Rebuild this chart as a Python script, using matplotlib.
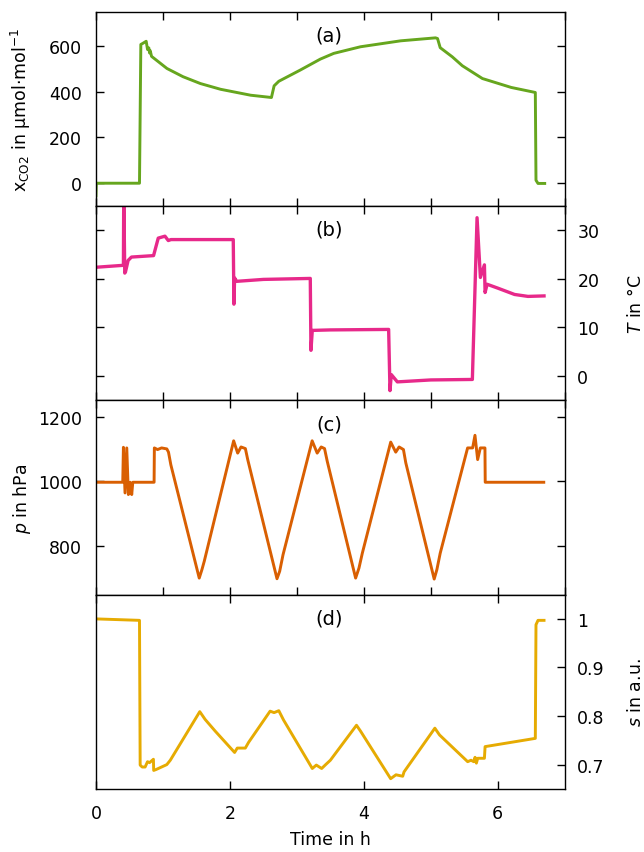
import numpy as np
import matplotlib
matplotlib.use("Agg")
import matplotlib.pyplot as plt

# Daten ----------------------------------------------------------------------

# (a) CO2-Anteil
t_co2 = [0, 0.005, 0.65, 0.67, 0.70, 0.75, 0.77, 0.79, 0.80, 0.81, 0.83, 1.06, 1.30,
         1.56, 1.86, 2.31, 2.62, 2.66, 2.73, 3.05, 3.35, 3.55, 3.95, 4.55, 5.07,
         5.10, 5.14, 5.32, 5.47, 5.77, 6.20, 6.56, 6.57, 6.60, 6.70]
x_co2 = [-55, 0, 0, 607, 612, 621, 585, 592, 570, 580, 555, 502, 466,
         436, 411, 385, 375, 426, 446, 495, 543, 568, 597, 623, 636,
         633, 593, 553, 514, 458, 419, 397, 13, -1, -1]

# (b) Temperatur
t_temp = [0, 0.41, 0.415, 0.43, 0.44, 0.48, 0.53, 0.86, 0.93, 1.03, 1.08, 1.12,
          2.05, 2.06, 2.07, 2.10, 2.50, 3.20, 3.21, 3.23, 3.50, 4.37, 4.39,
          4.41, 4.50, 5.00, 5.62, 5.69, 5.74, 5.80, 5.81, 5.84, 6.00, 6.25,
          6.45, 6.69]
temp = [22.4, 22.8, 38, 21.2, 21.4, 23.8, 24.5, 24.8, 28.4, 28.8, 27.9, 28.1,
        28.1, 14.8, 20.2, 19.5, 19.9, 20.1, 5.3, 9.4, 9.5, 9.6, -3.0,
        0.3, -1.2, -0.8, -0.7, 32.6, 20.3, 22.9, 17.2, 18.9, 18.1, 16.8,
        16.4, 16.5]

# (c) Druck
t_p = [0, 0.40, 0.41, 0.434, 0.46, 0.484, 0.51, 0.534, 0.55, 0.868, 0.872, 0.92,
       0.98, 1.058, 1.083, 1.118, 1.542, 1.582, 1.617, 2.056, 2.116, 2.166,
       2.231, 2.266, 2.703, 2.743, 2.793, 3.228, 3.303, 3.363, 3.413, 3.453,
       3.877, 3.927, 3.977, 4.401, 4.476, 4.526, 4.591, 4.626, 5.050, 5.090,
       5.140, 5.549, 5.624, 5.659, 5.699, 5.739, 5.808, 5.812, 6.686]
p = [997, 997, 1105, 964, 1103, 959, 997, 959, 997, 997, 1103, 1098,
     1103, 1100, 1090, 1051, 701, 727, 753, 1125, 1087, 1106,
     1101, 1067, 699, 722, 773, 1125, 1087, 1106, 1101, 1062,
     701, 732, 778, 1121, 1090, 1106, 1098, 1057, 698, 727,
     778, 1103, 1103, 1142, 1067, 1103, 1103, 997, 997]

# (d) Signal
t_s = [0, 0.65, 0.66, 0.69, 0.734, 0.77, 0.80, 0.858, 0.862, 0.90, 1.058, 1.11,
       1.55, 1.63, 1.78, 2.07, 2.11, 2.23, 2.28, 2.60, 2.66, 2.73, 2.80,
       3.23, 3.29, 3.37, 3.43, 3.50, 3.89, 3.95, 4.40, 4.48, 4.58, 4.60,
       5.06, 5.13, 5.55, 5.60, 5.64, 5.66, 5.68, 5.70, 5.80, 5.81, 6.56,
       6.57, 6.60, 6.69]
s = [1.000, 0.997, 0.699, 0.695, 0.695, 0.706, 0.704, 0.711, 0.688, 0.690, 0.700, 0.709,
     0.809, 0.793, 0.769, 0.725, 0.734, 0.734, 0.746, 0.810, 0.807, 0.811, 0.792,
     0.692, 0.699, 0.692, 0.700, 0.709, 0.781, 0.769, 0.671, 0.679, 0.676, 0.685,
     0.775, 0.761, 0.706, 0.709, 0.706, 0.715, 0.703, 0.713, 0.713, 0.737, 0.754,
     0.988, 0.997, 0.997]

# Plot -----------------------------------------------------------------------

plt.rcParams['font.family'] = 'DejaVu Sans'
plt.rcParams['font.size'] = 12.5
plt.rcParams['axes.linewidth'] = 1.0

fig, axs = plt.subplots(4, 1, figsize=(6.44, 8.53), dpi=100)
fig.subplots_adjust(left=0.149, right=0.877, top=0.985, bottom=0.074, hspace=0)

lw = 2.1
axs[0].plot(t_co2, x_co2, color='#66a61e', lw=lw)
axs[1].plot(t_temp, temp, color='#e7298a', lw=2.4)
axs[2].plot(t_p, p, color='#d95f02', lw=lw)
axs[3].plot(t_s, s, color='#e6ab02', lw=lw)

axs[0].set_ylim(-100, 750)
axs[1].set_ylim(-5, 35)
axs[2].set_ylim(650, 1250)
axs[3].set_ylim(0.65, 1.05)

axs[0].set_yticks([0, 200, 400, 600])
axs[1].set_yticks([0, 10, 20, 30])
axs[2].set_yticks([800, 1000, 1200])
axs[3].set_yticks([0.7, 0.8, 0.9, 1.0])
axs[3].set_yticklabels(['0.7', '0.8', '0.9', '1'])

for i, ax in enumerate(axs):
    if i < 3:
        ax.set_xticks(np.arange(0, 8, 1))
        ax.tick_params(axis='x', labelbottom=False)
    else:
        ax.set_xticks([0, 2, 4, 6])
    ax.tick_params(axis='x', direction='in', top=True, bottom=True, length=6, width=1, pad=11)
    ax.set_xlim(0, 7)

# y-Achsen links/rechts abwechselnd
axs[0].tick_params(axis='y', direction='in', left=True, right=True, length=6, width=1, pad=10)
axs[2].tick_params(axis='y', direction='in', left=True, right=True, length=6, width=1, pad=10)
axs[1].tick_params(axis='y', direction='in', left=True, right=True, labelleft=False,
                   labelright=True, length=6, width=1, pad=9)
axs[3].tick_params(axis='y', direction='in', left=False, right=True, labelleft=False,
                   labelright=True, length=6, width=1, pad=9)

axs[0].set_ylabel(r'x$_{\mathrm{CO2}}$ in µmol·mol$^{\mathrm{-1}}$')
axs[2].set_ylabel(r'$p$ in hPa')
axs[1].yaxis.set_label_position('right')
axs[1].set_ylabel(r'$T$ in °C', rotation=90)
axs[3].yaxis.set_label_position('right')
axs[3].set_ylabel(r'$s$ in a.u.', rotation=90)
for ax in (axs[0], axs[2]):
    ax.yaxis.set_label_coords(-0.134, 0.5)
for ax in (axs[1], axs[3]):
    ax.yaxis.set_label_coords(1.132, 0.5)

axs[3].set_xlabel('Time in h', labelpad=6)

for ax, lab in zip(axs, ['(a)', '(b)', '(c)', '(d)']):
    ax.text(0.497, 0.88, lab, transform=ax.transAxes, ha='center', va='center', fontsize=14)

fig.savefig('out.png', dpi=100)
